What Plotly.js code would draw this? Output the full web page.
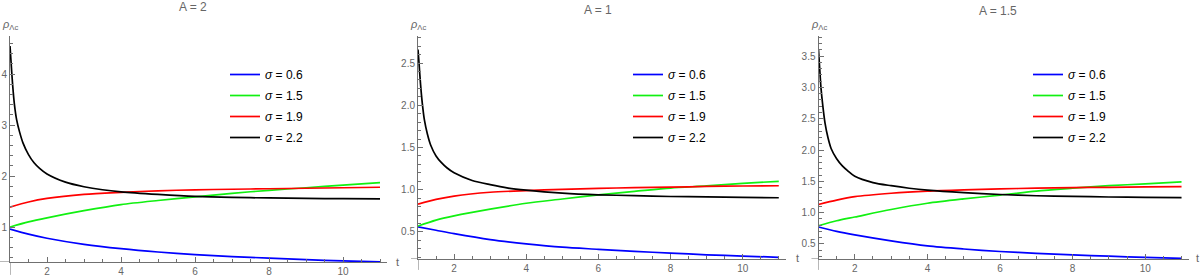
<!DOCTYPE html>
<html>
<head>
<meta charset="utf-8">
<script src="https://cdn.plot.ly/plotly-3.0.1.min.js"></script>
<style>
  html, body { margin: 0; padding: 0; background: #fff; }
  #chart { width: 1200px; height: 280px; }
</style>
</head>
<body>
<div id="chart"></div>
<script>
// ---------------- data ----------------
const panelTitles = ["A = 2", "A = 1", "A = 1.5"];
const sigmaLabels = ["σ = 0.6", "σ = 1.5", "σ = 1.9", "σ = 2.2"];
const seriesColors = ["#0000ff", "#11f011", "#ff0000", "#000000"];

const tGrid  = [1, 1.5, 2, 3, 4, 5, 6, 7, 8, 9, 10, 11];
const tBlack = [1, 1.03, 1.07, 1.12, 1.18, 1.26, 1.35, 1.5, 1.65, 1.8, 2, 2.5, 3, 3.5, 4, 5, 6, 7, 8, 9, 10, 11];

// A = 2
const a2_sigma06 = [0.96, 0.86, 0.78, 0.66, 0.575, 0.51, 0.46, 0.42, 0.39, 0.36, 0.335, 0.315];
const a2_sigma15 = [1.00, 1.10, 1.18, 1.32, 1.44, 1.52, 1.59, 1.66, 1.72, 1.77, 1.82, 1.87];
const a2_sigma19 = [1.39, 1.49, 1.56, 1.64, 1.68, 1.71, 1.73, 1.74, 1.75, 1.76, 1.77, 1.78];
const a2_sigma22 = [4.55, 4.22, 3.80, 3.40, 3.10, 2.86, 2.65, 2.42, 2.26, 2.15, 2.04, 1.88, 1.79, 1.73, 1.69, 1.64, 1.60, 1.58, 1.57, 1.56, 1.555, 1.55];

// A = 1
const a1_sigma06 = [0.56, 0.52, 0.48, 0.41, 0.36, 0.32, 0.295, 0.27, 0.25, 0.23, 0.215, 0.20];
const a1_sigma15 = [0.57, 0.64, 0.69, 0.77, 0.84, 0.89, 0.94, 0.98, 1.02, 1.045, 1.075, 1.10];
const a1_sigma19 = [0.83, 0.885, 0.925, 0.97, 0.99, 1.005, 1.015, 1.025, 1.03, 1.04, 1.044, 1.047];
const a1_sigma22 = [2.66, 2.49, 2.25, 2.02, 1.82, 1.66, 1.53, 1.40, 1.32, 1.26, 1.20, 1.11, 1.06, 1.02, 0.995, 0.96, 0.94, 0.93, 0.92, 0.915, 0.91, 0.905];

// A = 1.5
const a15_sigma06 = [0.77, 0.70, 0.645, 0.55, 0.47, 0.42, 0.38, 0.35, 0.325, 0.305, 0.285, 0.27];
const a15_sigma15 = [0.79, 0.87, 0.93, 1.05, 1.15, 1.22, 1.28, 1.345, 1.39, 1.43, 1.46, 1.49];
const a15_sigma19 = [1.13, 1.20, 1.255, 1.31, 1.345, 1.365, 1.38, 1.39, 1.40, 1.405, 1.41, 1.415];
const a15_sigma22 = [3.60, 3.33, 2.98, 2.70, 2.43, 2.20, 2.02, 1.86, 1.75, 1.67, 1.58, 1.48, 1.43, 1.39, 1.36, 1.32, 1.29, 1.27, 1.26, 1.25, 1.245, 1.24];

const xTickVals = [2, 4, 6, 8, 10];

// ---------------- styling ----------------
const axisGrey = "#707070";
const textGrey = "#666666";
const fontFam = "Liberation Sans, Arial, sans-serif";

const panels = [
  { id: "", title: panelTitles[0], data: [a2_sigma06, a2_sigma15, a2_sigma19, a2_sigma22],
    xdom: [10/1200, 387.4/1200], ydom: [1-262/280, 1-36/280], yr: [0.314, 4.745],
    ydt: 1, yminor: 0.2, yfmt: "d", legend: "legend", legx: 225/1200,
    titleX: 193, titleY: 7, rhoX: 0, tX: 397, tY: 262, xext: 0.027, yext: 0.057 },
  { id: "2", title: panelTitles[1], data: [a1_sigma06, a1_sigma15, a1_sigma19, a1_sigma22],
    xdom: [418/1200, 786/1200], ydom: [1-259/280, 1-36/280], yr: [0.18, 2.82],
    ydt: 0.5, yminor: 0.1, yfmt: ".1f", legend: "legend2", legx: 628/1200,
    titleX: 598, titleY: 10, rhoX: 408, tX: 797, tY: 258, xext: 0.019, yext: 0.049 },
  { id: "3", title: panelTitles[2], data: [a15_sigma06, a15_sigma15, a15_sigma19, a15_sigma22],
    xdom: [818.5/1200, 1188.8/1200], ydom: [1-259/280, 1-36/280], yr: [0.26, 3.82],
    ydt: 0.5, yminor: 0.1, yfmt: ".1f", legend: "legend3", legx: 1028/1200,
    titleX: 998, titleY: 11, rhoX: 809, tX: 1197, tY: 258, xext: 0.019, yext: 0.049 }
];

const traces = [];
const layout = {
  width: 1200, height: 280,
  margin: { l: 0, r: 0, t: 0, b: 0 },
  paper_bgcolor: "#ffffff", plot_bgcolor: "#ffffff",
  font: { family: fontFam, size: 10, color: textGrey },
  annotations: [], shapes: []
};

panels.forEach((p, pi) => {
  const xa = "x" + p.id, ya = "y" + p.id;
  p.data.forEach((vals, si) => {
    traces.push({
      type: "scatter", mode: "lines",
      x: si === 3 ? tBlack : tGrid, y: vals,
      xaxis: xa, yaxis: ya,
      name: "<i>σ</i>" + sigmaLabels[si].slice(1),
      legend: p.legend, legendgroup: "g" + pi + "_" + si,
      line: { color: seriesColors[si], width: 1.7, shape: "spline", smoothing: 0.8 }
    });
  });

  layout["xaxis" + p.id] = {
    domain: p.xdom, anchor: ya, range: [1, 11.2],
    showgrid: false, zeroline: false, showline: true, linecolor: axisGrey, linewidth: 1,
    ticks: "inside", ticklen: 5, tickcolor: axisGrey, tickwidth: 1,
    tickvals: xTickVals, ticktext: xTickVals.map(String),
    minor: { dtick: 0.5, tick0: 0, ticks: "inside", ticklen: 3, tickcolor: axisGrey, tickwidth: 1, showgrid: false },
    tickfont: { family: fontFam, size: 10, color: textGrey },
    fixedrange: true
  };
  layout["yaxis" + p.id] = {
    domain: p.ydom, anchor: xa, range: p.yr,
    showgrid: false, zeroline: false, showline: true, linecolor: axisGrey, linewidth: 1,
    ticks: "inside", ticklen: 5, tickcolor: axisGrey, tickwidth: 1,
    dtick: p.ydt, tick0: 0, tickformat: p.yfmt,
    minor: { dtick: p.yminor, tick0: 0, ticks: "inside", ticklen: 3, tickcolor: axisGrey, tickwidth: 1, showgrid: false },
    tickfont: { family: fontFam, size: 10, color: textGrey },
    fixedrange: true
  };

  layout[p.legend] = {
    x: p.legx, y: 1 - 60/280, xanchor: "left", yanchor: "top",
    bgcolor: "rgba(0,0,0,0)", borderwidth: 0,
    font: { family: fontFam, size: 12, color: "#000000" },
    traceorder: "grouped", tracegroupgap: 2, itemclick: false, itemdoubleclick: false
  };

  // titles and axis labels
  layout.annotations.push({
    xref: "paper", yref: "paper", x: p.titleX/1200, y: 1 - p.titleY/280,
    xanchor: "center", yanchor: "middle", showarrow: false,
    text: p.title, font: { family: fontFam, size: 12, color: textGrey }
  });
  layout.annotations.push({
    xref: "paper", yref: "paper", x: p.rhoX/1200, y: 1 - 25/280,
    xanchor: "left", yanchor: "middle", showarrow: false,
    text: "<i>ρ</i><sub>Λc</sub>", font: { family: fontFam, size: 11, color: textGrey }
  });
  layout.annotations.push({
    xref: "paper", yref: "paper", x: p.tX/1200, y: 1 - p.tY/280,
    xanchor: "center", yanchor: "middle", showarrow: false,
    text: "t", font: { family: fontFam, size: 11, color: textGrey }
  });

  // axis line extensions past the crossing point (Mathematica style)
  layout.shapes.push({
    type: "line", xref: xa + " domain", yref: ya,
    x0: -p.xext, x1: 0, y0: p.yr[0], y1: p.yr[0],
    line: { color: axisGrey, width: 1 }
  });
  layout.shapes.push({
    type: "line", xref: xa, yref: ya + " domain",
    x0: 1, x1: 1, y0: -p.yext, y1: 0,
    line: { color: axisGrey, width: 1 }
  });
});

Plotly.newPlot("chart", traces, layout, { staticPlot: true, displayModeBar: false });
</script>
</body>
</html>
